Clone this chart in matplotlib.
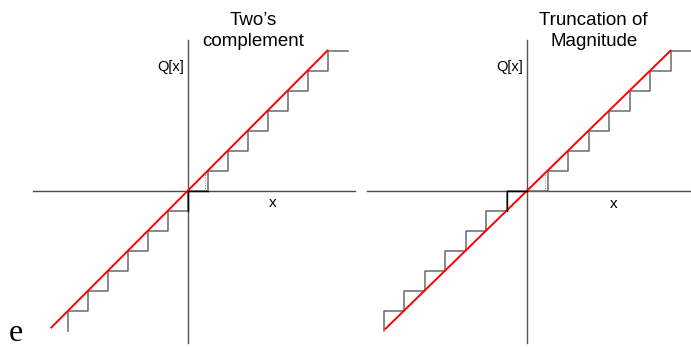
import numpy as np
import matplotlib
matplotlib.use("Agg")
import matplotlib.pyplot as plt

# ---------------- quantiser staircases (units of one LSB) ----------------
# two's complement rounds toward -inf : Q[x] = floor(x)
twos_x = [-6, -6, -5, -4, -3, -2, -1, 0, 1, 2, 3, 4, 5, 6, 7, 8.0]
twos_q = [-7, -6, -5, -4, -3, -2, -1, 0, 1, 2, 3, 4, 5, 6, 7, 7]

# truncation of magnitude rounds toward zero
trunc_x = [-7, -7, -6, -5, -4, -3, -2, -1, 0, 1, 2, 3, 4, 5, 6, 7, 8.0]
trunc_q = [-7, -6, -5, -4, -3, -2, -1, 0, 0, 1, 2, 3, 4, 5, 6, 7, 7]

# ideal (unquantised) line Q[x] = x
twos_ideal = [-6.85, 7.0]
trunc_ideal = [-6.9, 7.0]

W, H = 691, 347
fig = plt.figure(figsize=(W / 100, H / 100), dpi=100)
plt.rcParams['font.family'] = ['Liberation Sans', 'DejaVu Sans']


def panel(ox, oy, sx, sy):
    # full-figure axes whose origin sits at pixel (ox, oy)
    ax = fig.add_axes([0, 0, 1, 1])
    ax.set_xlim(-ox / sx, (W - ox) / sx)
    ax.set_ylim((oy - H) / sy, oy / sy)
    ax.axis('off')
    ax.patch.set_alpha(0)
    return ax


def draw(ax, xs, qs, ideal, title, xaxis, dot_x):
    ax.plot(xaxis, [0, 0], color='#4a4a4a', lw=1.0)
    ax.plot([0, 0], [-7.62, 7.52], color='#555555', lw=1.0)
    ax.step(xs, qs, where='post', color='#6a6a6a', lw=1.1)
    ax.plot([dot_x, dot_x], [0, 1], color='#777777', lw=0.7, ls=':')
    ax.plot(ideal, ideal, color='#ff0000', lw=1.4)
    ax.text(3.25, 8.28, title[0], ha='center', va='baseline', fontsize=13.5)
    ax.text(3.25, 7.22, title[1], ha='center', va='baseline', fontsize=13.5)
    ax.text(-0.2, 6.0, 'Q[x]', ha='right', va='baseline', fontsize=10.5)
    ax.text(4.24, -0.84, 'x', ha='center', va='baseline', fontsize=11)


left = panel(188, 190.5, 19.95, 20.0)
draw(left, twos_x, twos_q, twos_ideal, ('Two\u2019s', 'complement'),
     [-7.75, 8.37], 0.87)
# darker segments right at the origin
left.plot([0, 0, 1], [-1, 0, 0], color='black', lw=1.0)

right = panel(527, 190.7, 20.5, 20.0)
draw(right, trunc_x, trunc_q, trunc_ideal, ('Truncation of', 'Magnitude'),
     [-7.8, 8.0], 0.86)
right.plot([-1, -1, 0], [-1, 0, 0], color='black', lw=1.0)

fig.text(8.3 / W, 1 - 341 / H, 'e', fontsize=23, family='Liberation Serif',
         ha='left', va='baseline')

fig.savefig('out.png', dpi=100)
